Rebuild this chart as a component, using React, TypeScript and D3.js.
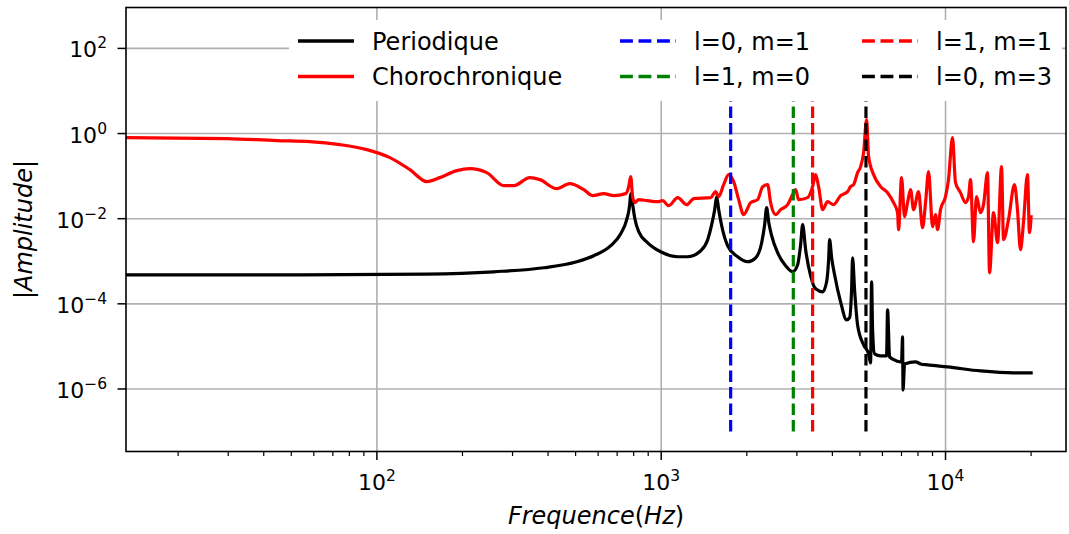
import React from 'react';
import * as d3 from 'd3';

// Periodique (black solid)
const periodiqueFreq = [12, 54.1, 150, 257.8, 386.4, 504.7, 579, 664.5, 720.4, 756.2, 774.8, 781, 793.6, 806.6, 833.4, 896.6, 995.9, 1143, 1239, 1377, 1457, 1505, 1542, 1567, 1593, 1632, 1713, 1857, 2014, 2149, 2256, 2311, 2349, 2387, 2446, 2567, 2739, 2899, 3019, 3093, 3144, 3221, 3354, 3493, 3697, 3818, 3880, 3912, 3976, 4072, 4275, 4487, 4598, 4673, 4711, 4788, 4906, 5150, 5363, 5451, 5495, 5540, 5630, 5910, 6204, 6254, 6357, 6727, 7003, 7061, 7090, 7177, 7848, 8171, 8644, 10162, 13274, 17338, 20000];
const periodiqueAmp = [4.81e-4, 4.81e-4, 5.0e-4, 5.66e-4, 7.03e-4, 9.73e-4, 1.346e-3, 2.317e-3, 4.44e-3, 9.47e-3, 0.02135, 0.03875, 0.02135, 0.01056, 4.94e-3, 2.72e-3, 1.675e-3, 1.276e-3, 1.276e-3, 1.767e-3, 3.21e-3, 7.22e-3, 0.0163, 0.03296, 0.0163, 6.84e-3, 2.317e-3, 1.276e-3, 9.73e-4, 1.208e-3, 2.72e-3, 7.22e-3, 0.01815, 8.5e-3, 3.98e-3, 1.585e-3, 7.84e-4, 5.66e-4, 8.28e-4, 2.445e-3, 7.22e-3, 1.866e-3, 4.56e-4, 2.25e-4, 1.915e-4, 3.3e-4, 1.084e-3, 3.21e-3, 1.208e-3, 4.81e-4, 1.114e-4, 4.2e-5, 4.69e-5, 2.13e-4, 1.208e-3, 2.13e-4, 3.2e-5, 1.084e-5, 6.66e-6, 4.09e-6, 3.3e-4, 2.44e-5, 6.66e-6, 5.97e-6, 5.97e-6, 7.22e-5, 5.66e-6, 4.56e-6, 4.32e-6, 1.675e-5, 9.47e-7, 3.87e-6, 4.32e-6, 3.87e-6, 3.67e-6, 3.3e-6, 2.65e-6, 2.38e-6, 2.38e-6];

// Chorochronique (red solid)
const chorochroniqueFreq = [12, 29.7, 44.5, 58.1, 74.1, 92.2, 111.1, 130.6, 150, 166.5, 191.1, 212.3, 243.6, 279.6, 303.1, 345, 374.1, 429.2, 476.9, 534.1, 574.3, 628.1, 680.8, 750.1, 768.7, 781, 793.6, 806.6, 833.4, 896.6, 971.9, 1012, 1063, 1143, 1229, 1301, 1493, 1554, 1593, 1658, 1727, 1798, 1873, 1950, 2064, 2184, 2275, 2368, 2426, 2526, 2630, 2784, 2899, 2970, 3043, 3273, 3408, 3493, 3577, 3697, 3847, 4039, 4275, 4524, 4635, 4750, 4906, 5028, 5150, 5277, 5363, 5585, 5910, 6254, 6566, 6782, 6837, 7003, 7177, 7353, 7534, 7720, 8037, 8302, 8507, 8716, 9004, 9224, 9374, 9603, 10000, 10245, 10582, 10842, 11290, 11757, 12046, 12244, 12545, 12853, 13274, 13604, 14052, 14283, 14752, 15239, 15740, 15998, 16652, 17478, 17909, 18350, 18800, 19420, 19738, 20000];
const chorochroniqueAmp = [0.805, 0.763, 0.684, 0.648, 0.551, 0.42, 0.2724, 0.1422, 0.0742, 0.0922, 0.1347, 0.15, 0.1209, 0.0598, 0.0598, 0.0922, 0.0827, 0.0508, 0.0666, 0.0481, 0.0348, 0.0388, 0.0348, 0.0388, 0.0566, 0.0973, 0.0329, 0.0238, 0.028, 0.0265, 0.0251, 0.0265, 0.0202, 0.0312, 0.02135, 0.0296, 0.0312, 0.0432, 0.0329, 0.0631, 0.1085, 0.0742, 0.028, 0.01242, 0.0238, 0.028, 0.0566, 0.0631, 0.0238, 0.01242, 0.0163, 0.02135, 0.0367, 0.0481, 0.028, 0.0312, 0.0566, 0.1085, 0.0566, 0.0163, 0.0251, 0.02135, 0.0348, 0.0432, 0.0566, 0.0631, 0.1209, 0.1674, 0.357, 2.135, 0.2876, 0.1085, 0.0566, 0.0409, 0.0238, 0.01384, 5.51e-3, 0.0922, 0.01114, 0.0238, 0.0481, 0.0163, 0.0432, 6.14e-3, 0.0238, 0.1276, 6.48e-3, 0.01242, 5.51e-3, 0.0163, 0.0329, 0.0827, 0.805, 0.0703, 0.0409, 0.0238, 0.0329, 0.0827, 2.875e-3, 0.0329, 0.01384, 0.02135, 0.1209, 5.36e-4, 0.01384, 2.72e-3, 0.1674, 3.21e-3, 9.47e-3, 0.0631, 0.0163, 1.866e-3, 8.05e-3, 0.1085, 4.68e-3, 0.01114];

// Mode frequencies (dashed vertical lines)
const modeFreqs = [1755, 2915, 3408, 5250];
const modeLabels = ['l=0, m=1', 'l=1, m=0', 'l=1, m=1', 'l=0, m=3'];
const modeColors = ['#0000ff', '#008000', '#ff0000', '#000000'];
const modeRange = [1e-7, 100];

const xMajorTicks = [100, 1000, 10000];
const xMajorExp = ['2', '3', '4'];
const yMajorTicks = [1e-6, 1e-4, 1e-2, 1, 100];
const yMajorExp = ['\u22126', '\u22124', '\u22122', '0', '2'];

const W = 1069;
const H = 534;
const L = 126, R = 1066, T = 7.5, B = 451.5;
const FONT = 'DejaVu Sans, sans-serif';

export default function App() {
  const x = d3.scaleLog().domain([13.11, 26530]).range([L, R]);
  const y = d3.scaleLog().domain([Math.pow(10, -7.469), Math.pow(10, 2.961)]).range([B, T]);

  const minorX: number[] = [];
  [10, 100, 1000, 10000].forEach((d) => {
    for (let k = 2; k <= 9; k++) {
      const v = d * k;
      if (v > 13.11 && v < 26530) minorX.push(v);
    }
  });

  const line = d3.line<[number, number]>().x((d) => x(d[0])).y((d) => y(d[1])).curve(d3.curveMonotoneX);
  const perPath = line(periodiqueFreq.map((f, i) => [f, periodiqueAmp[i]] as [number, number])) || '';
  const chorPath = line(chorochroniqueFreq.map((f, i) => [f, chorochroniqueAmp[i]] as [number, number])) || '';

  const legendItems = [
    { label: 'Periodique', color: '#000000', dash: false },
    { label: 'Chorochronique', color: '#ff0000', dash: false },
    ...modeLabels.map((l, i) => ({ label: l, color: modeColors[i], dash: true })),
  ];
  const colX = [298, 620, 862];
  const rowY = [41, 76.5];

  return (
    <svg width={W} height={H} style={{ position: 'absolute', left: 0, top: 0, background: '#fff' }} fontFamily={FONT}>
      <defs>
        <clipPath id="plotclip">
          <rect x={L} y={T} width={R - L} height={B - T} />
        </clipPath>
      </defs>
      <rect x={0} y={0} width={W} height={H} fill="#fff" />
      {/* grid */}
      <g stroke="#b0b0b0" strokeWidth={1.6}>
        {xMajorTicks.map((t) => (
          <line key={'gx' + t} x1={x(t)} x2={x(t)} y1={T} y2={B} />
        ))}
        {yMajorTicks.map((t) => (
          <line key={'gy' + t} x1={L} x2={R} y1={y(t)} y2={y(t)} />
        ))}
      </g>
      {/* curves */}
      <g clipPath="url(#plotclip)" fill="none" strokeLinejoin="round" strokeLinecap="square">
        <path d={perPath} stroke="#000000" strokeWidth={3.2} />
        <path d={chorPath} stroke="#ff0000" strokeWidth={3.2} />
        {modeFreqs.map((f, i) => (
          <line key={'m' + i} x1={x(f)} x2={x(f)} y1={y(modeRange[0])} y2={y(modeRange[1])}
            stroke={modeColors[i]} strokeWidth={3.2} strokeDasharray="11.5,5" strokeLinecap="butt" />
        ))}
      </g>
      {/* legend */}
      <rect x={289} y={20} width={773} height={81} fill="#fff" rx={4} />
      {legendItems.map((it, i) => {
        const cx = colX[Math.floor(i / 2)];
        const cy = rowY[i % 2];
        return (
          <g key={'lg' + i}>
            <line x1={cx} x2={cx + 56} y1={cy} y2={cy} stroke={it.color} strokeWidth={3.5}
              strokeDasharray={it.dash ? '12.9,5.6' : undefined} />
            <text x={cx + 74} y={cy + 8.5} fontSize={24} fill="#000">{it.label}</text>
          </g>
        );
      })}
      {/* spines */}
      <rect x={L} y={T} width={R - L} height={B - T} fill="none" stroke="#000" strokeWidth={1.6} />
      {/* ticks */}
      <g stroke="#000" strokeWidth={1.5}>
        {xMajorTicks.map((t) => (
          <line key={'tx' + t} x1={x(t)} x2={x(t)} y1={B} y2={B + 8.5} />
        ))}
        {minorX.map((t) => (
          <line key={'mx' + t} x1={x(t)} x2={x(t)} y1={B} y2={B + 4.5} strokeWidth={1.2} />
        ))}
        {yMajorTicks.map((t) => (
          <line key={'ty' + t} x1={L - 8.5} x2={L} y1={y(t)} y2={y(t)} />
        ))}
      </g>
      {xMajorTicks.map((t, i) => (
        <text key={'lx' + t} x={x(t)} y={490} textAnchor="middle" fontSize={22} fill="#000">
          10<tspan fontSize={15.5} dy={-9}>{xMajorExp[i]}</tspan>
        </text>
      ))}
      {yMajorTicks.map((t, i) => (
        <text key={'ly' + t} x={107} y={y(t) + 9} textAnchor="end" fontSize={22} fill="#000">
          10<tspan fontSize={15.5} dy={-9}>{yMajorExp[i]}</tspan>
        </text>
      ))}
      {/* axis labels */}
      <text x={(L + R) / 2} y={524} textAnchor="middle" fontSize={24} fill="#000">
        <tspan fontStyle="italic">Frequence</tspan>(<tspan fontStyle="italic">Hz</tspan>)
      </text>
      <text transform={`translate(32, ${(T + B) / 2}) rotate(-90)`} textAnchor="middle" fontSize={24} fill="#000">
        |<tspan fontStyle="italic">Amplitude</tspan>|
      </text>
    </svg>
  );
}
